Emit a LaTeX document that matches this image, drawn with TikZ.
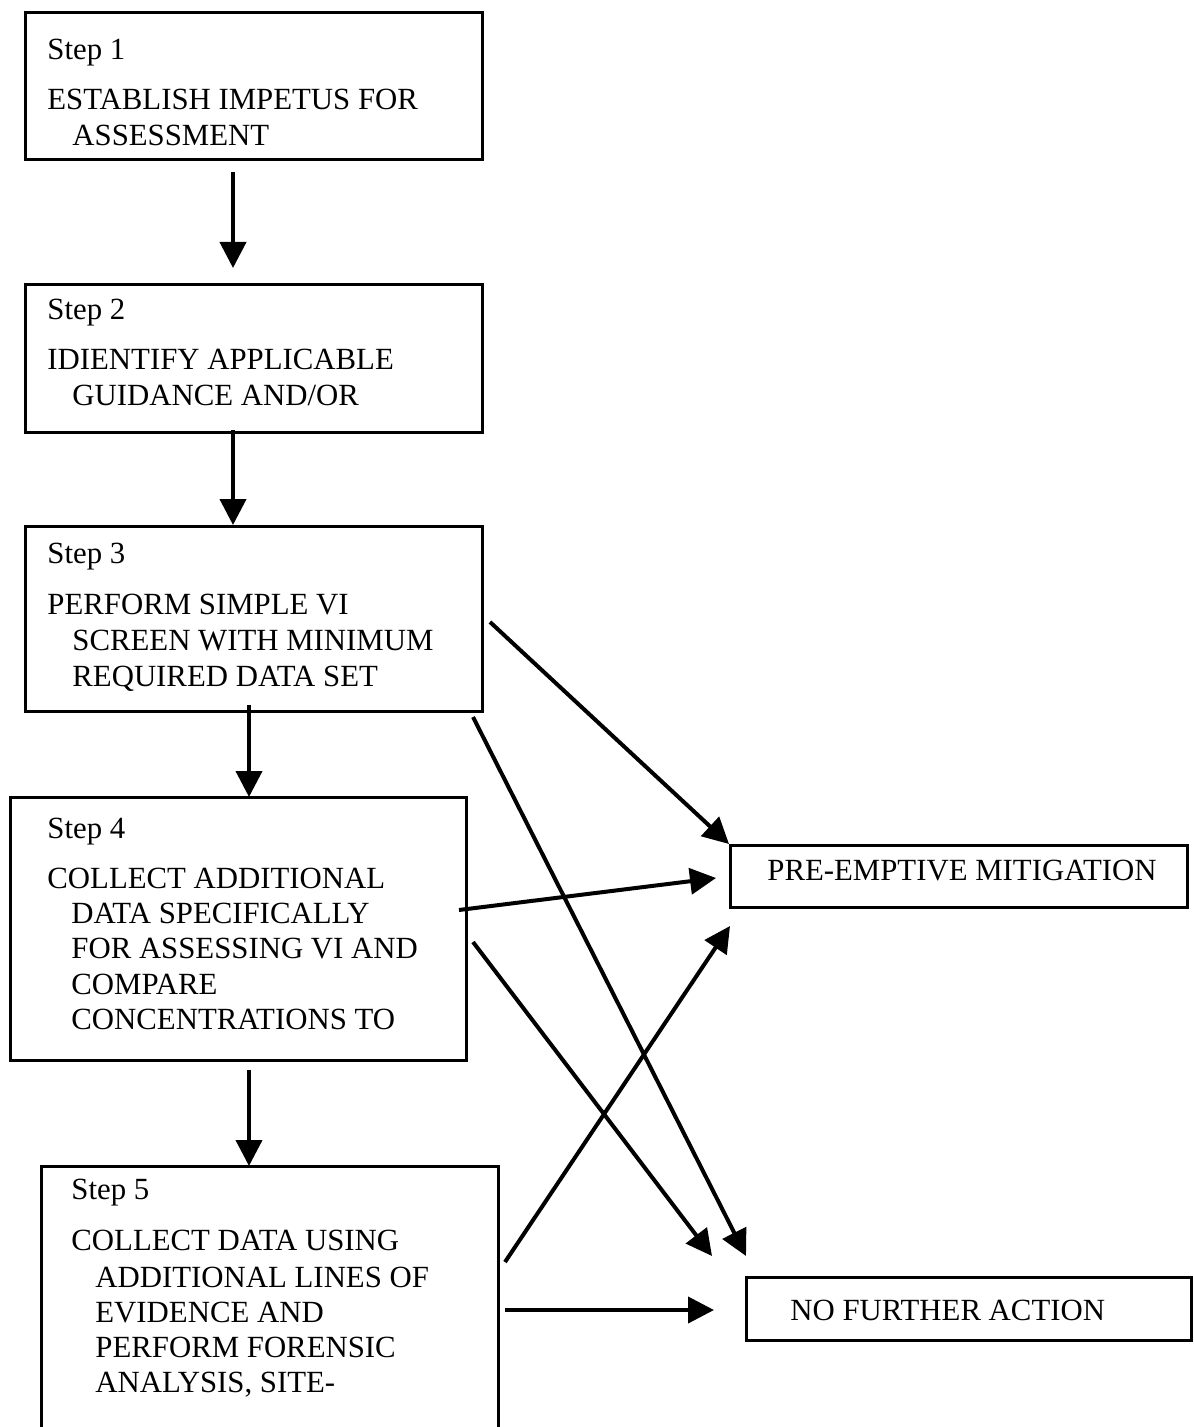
\documentclass[tikz,border=0pt]{standalone}
\usepackage{fontspec}
\setmainfont{Liberation Serif}
\usetikzlibrary{arrows.meta}
\begin{document}
\begin{tikzpicture}[x=0.5pt,y=-0.5pt,
  box/.style={draw, line width=1.5pt, inner sep=0pt, outer sep=0pt, anchor=north west},
  txt/.style={anchor=base west, inner sep=0pt, font=\fontsize{15.4}{18}\selectfont},
  arr/.style={line width=2pt, -{Triangle[length=13pt,width=13pt]}}]
\useasboundingbox (0,0) rectangle (1193,1427);
\clip (0,0) rectangle (1193,1427);
\fill[white] (0,0) rectangle (1193,1427);
% boxes
\node[box, minimum width=228.5pt, minimum height=73.5pt] (b1) at (25,13) {};
\node[box, minimum width=228.5pt, minimum height=73.5pt] (b2) at (25,285) {};
\node[box, minimum width=228.5pt, minimum height=92.5pt] (b3) at (25,526) {};
\node[box, minimum width=228pt, minimum height=131.5pt] (b4) at (10,797) {};
\node[box, minimum width=228.5pt, minimum height=150pt] (b5) at (41,1166) {};
\node[box, minimum width=228.5pt, minimum height=31pt] (pre) at (730,845) {};
\node[box, minimum width=222.5pt, minimum height=31.5pt] (nfa) at (746,1277) {};
% texts
\node[txt] (t1a) at (47,60) {Step 1};
\node[txt] (t1b) at (47,110) {ESTABLISH IMPETUS FOR};
\node[txt] (t1c) at (72,146) {ASSESSMENT};
\node[txt] (t2a) at (47,320) {Step 2};
\node[txt] (t2b) at (47,370) {IDIENTIFY APPLICABLE};
\node[txt] (t2c) at (72,406) {GUIDANCE AND/OR};
\node[txt] (t3a) at (47,563) {Step 3};
\node[txt] (t3b) at (47,614) {PERFORM SIMPLE VI};
\node[txt] (t3c) at (72,650) {SCREEN WITH MINIMUM};
\node[txt] (t3d) at (72,686) {REQUIRED DATA SET};
\node[txt] (t4a) at (47,838) {Step 4};
\node[txt] (t4b) at (47,888) {COLLECT ADDITIONAL};
\node[txt] (t4c) at (71,923) {DATA SPECIFICALLY};
\node[txt] (t4d) at (71,958) {FOR ASSESSING VI AND};
\node[txt] (t4e) at (71,994) {COMPARE};
\node[txt] (t4f) at (71,1029) {CONCENTRATIONS TO};
\node[txt] (t5a) at (71,1199) {Step 5};
\node[txt] (t5b) at (71,1250) {COLLECT DATA USING};
\node[txt] (t5c) at (95,1287) {ADDITIONAL LINES OF};
\node[txt] (t5d) at (95,1322) {EVIDENCE AND};
\node[txt] (t5e) at (95,1357) {PERFORM FORENSIC};
\node[txt] (t5f) at (95,1392) {ANALYSIS, SITE-};
\node[txt] (tpre) at (767,880) {PRE-EMPTIVE MITIGATION};
\node[txt] (tnfa) at (790,1320) {NO FURTHER ACTION};
% connector end points
\coordinate (a12s) at (233,172);
\coordinate (a12e) at (233,268);
\coordinate (a23s) at (233,430);
\coordinate (a23e) at (233,525);
\coordinate (a34s) at (249,705);
\coordinate (a34e) at (249,797);
\coordinate (a45s) at (249,1070);
\coordinate (a45e) at (249,1166);
\coordinate (d3ps) at (490,622);
\coordinate (d3pe) at (729,844);
\coordinate (d4ps) at (459,910);
\coordinate (d4pe) at (716,878);
\coordinate (d5ps) at (505,1262);
\coordinate (d5pe) at (730,926);
\coordinate (d3ns) at (473,717);
\coordinate (d3ne) at (746,1256);
\coordinate (d4ns) at (473,942);
\coordinate (d4ne) at (712,1256);
\coordinate (d5ns) at (505,1310);
\coordinate (d5ne) at (714,1310);
% connectors
\draw[arr] (a12s) -- (a12e);
\draw[arr] (a23s) -- (a23e);
\draw[arr] (a34s) -- (a34e);
\draw[arr] (a45s) -- (a45e);
\draw[arr] (d3ps) -- (d3pe);
\draw[arr] (d4ps) -- (d4pe);
\draw[arr] (d5ps) -- (d5pe);
\draw[arr] (d3ns) -- (d3ne);
\draw[arr] (d4ns) -- (d4ne);
\draw[arr] (d5ns) -- (d5ne);
\end{tikzpicture}
\end{document}
